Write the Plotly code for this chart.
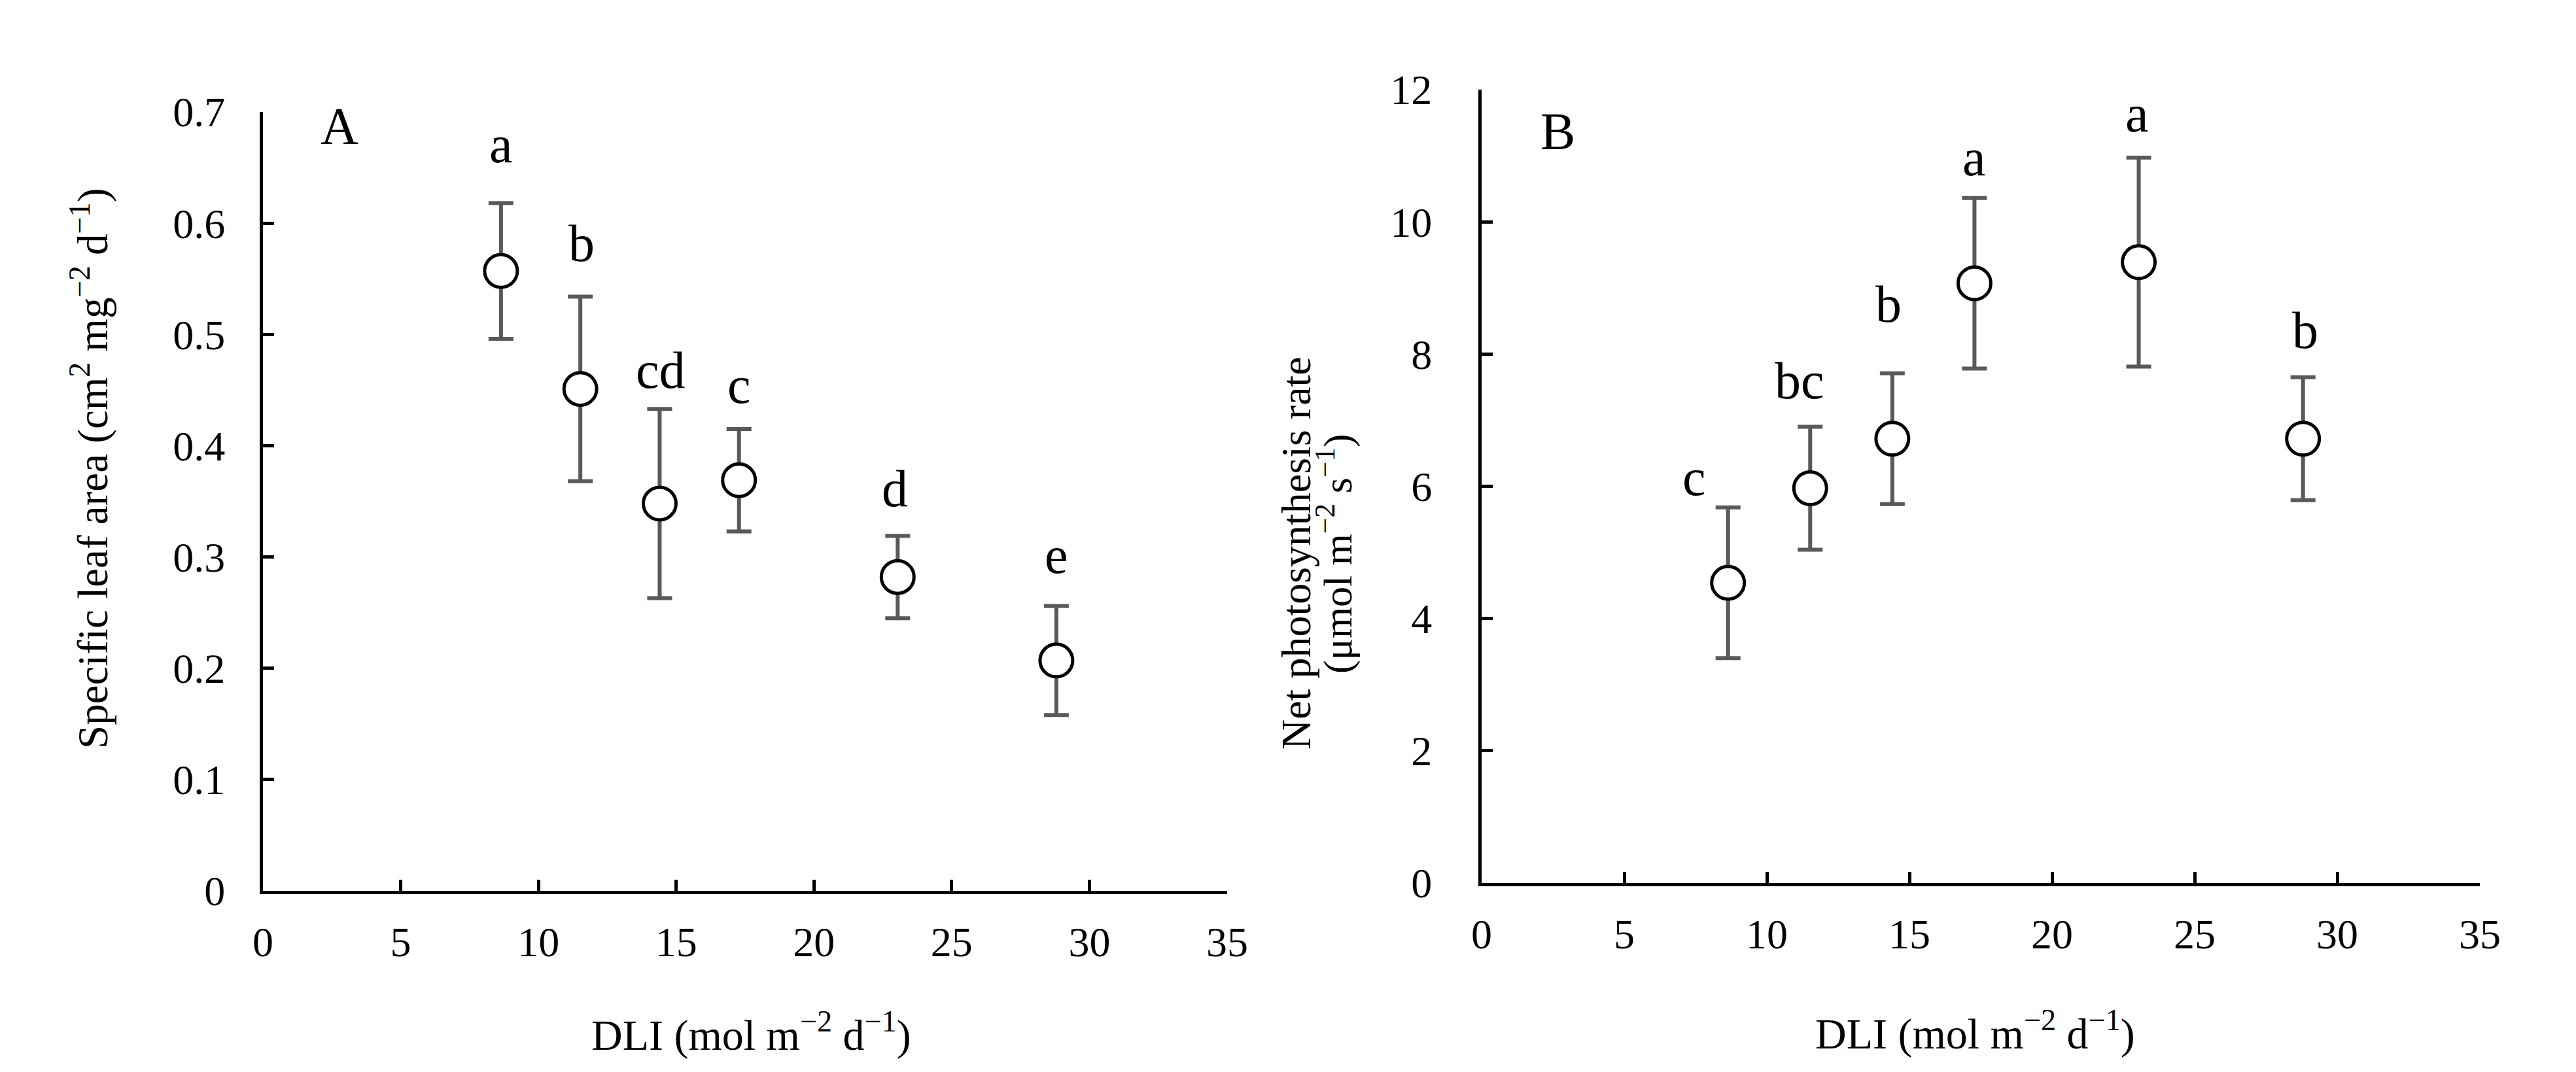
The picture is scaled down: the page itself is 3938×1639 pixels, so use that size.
import plotly.graph_objects as go

# ---------------- data ----------------
dli = [8.64, 11.52, 14.4, 17.28, 23.04, 28.8]

sla_mean = [0.557, 0.451, 0.348, 0.369, 0.282, 0.207]
sla_err = [0.061, 0.083, 0.085, 0.046, 0.037, 0.049]
sla_letters = ["a", "b", "cd", "c", "d", "e"]

pn_mean = [4.54, 5.97, 6.72, 9.07, 9.39, 6.72]
pn_err = [1.14, 0.93, 0.99, 1.29, 1.58, 0.93]
pn_letters = ["c", "bc", "b", "a", "a", "b"]

x_ticks = [0, 5, 10, 15, 20, 25, 30, 35]

# letter placement tweaks (pixels above the error-bar cap, horizontal nudge)
sla_lab_dy = [62, 53, 31, 39, 44, 49]
sla_lab_dx = [0, 2, 2, 0, -4, 0]
pn_lab_dy = [18, 43, 78, 34, 39, 44]
pn_lab_dx = [-52, -16, -6, 0, -3, 3]

# ---------------- layout helpers ----------------
W, H = 3922, 1623
OFF = 8  # default body margin of the page


def px(xp):
    return (xp - OFF) / W


def py(yp):
    return 1 - (yp - OFF) / H


FONT = "Liberation Serif, Times New Roman, serif"
TICK_SIZE = 64
TITLE_SIZE = 66
LETTER_SIZE = 80
ERR_COLOR = "#595959"

fig = go.Figure()

fig.add_trace(go.Scatter(
    x=dli, y=sla_mean, mode="markers", xaxis="x", yaxis="y",
    marker=dict(symbol="circle", size=50, color="white",
                line=dict(color="black", width=5)),
    error_y=dict(type="data", array=sla_err, visible=True,
                 color=ERR_COLOR, thickness=6, width=19),
    showlegend=False, hoverinfo="x+y",
))
fig.add_trace(go.Scatter(
    x=dli, y=pn_mean, mode="markers", xaxis="x2", yaxis="y2",
    marker=dict(symbol="circle", size=50, color="white",
                line=dict(color="black", width=5)),
    error_y=dict(type="data", array=pn_err, visible=True,
                 color=ERR_COLOR, thickness=6, width=19),
    showlegend=False, hoverinfo="x+y",
))

axis_common = dict(
    showgrid=False, zeroline=False, showline=True, linecolor="black",
    linewidth=5, ticks="inside", ticklen=17, tickwidth=5, tickcolor="black",
    tickfont=dict(family=FONT, size=TICK_SIZE, color="black"),
    fixedrange=True, automargin=False,
)

fig.update_layout(
    template="none",
    width=W, height=H, autosize=False,
    margin=dict(l=0, r=0, t=0, b=0, pad=0),
    paper_bgcolor="white", plot_bgcolor="white",
    font=dict(family=FONT, color="black"),
    xaxis=dict(axis_common, domain=[px(402), px(1876)], range=[0, 35],
               tickvals=x_ticks, anchor="y", ticklabelstandoff=18),
    yaxis=dict(axis_common, domain=[py(1362), py(171)], range=[0, 0.7],
               dtick=0.1, tick0=0, anchor="x", ticklabelstandoff=40),
    xaxis2=dict(axis_common, domain=[px(2265), px(3791)], range=[0, 35],
                tickvals=x_ticks, anchor="y2", ticklabelstandoff=18),
    yaxis2=dict(axis_common, domain=[py(1350), py(137)], range=[0, 12],
                dtick=2, tick0=0, anchor="x2", ticklabelstandoff=58),
)

ann = []
# significance letters
for xv, m, e, t, dy, dx in zip(dli, sla_mean, sla_err, sla_letters, sla_lab_dy, sla_lab_dx):
    ann.append(dict(x=xv, y=m + e, xref="x", yref="y", text=t, showarrow=False,
                    yanchor="bottom", xanchor="center", yshift=dy - 18, xshift=dx,
                    font=dict(family=FONT, size=LETTER_SIZE, color="black")))
for xv, m, e, t, dy, dx in zip(dli, pn_mean, pn_err, pn_letters, pn_lab_dy, pn_lab_dx):
    ann.append(dict(x=xv, y=m + e, xref="x2", yref="y2", text=t, showarrow=False,
                    yanchor="bottom", xanchor="center", yshift=dy - 18, xshift=dx,
                    font=dict(family=FONT, size=LETTER_SIZE, color="black")))

# panel labels
ann.append(dict(x=px(519), y=py(193), xref="paper", yref="paper", text="A",
                showarrow=False, xanchor="center", yanchor="middle",
                font=dict(family=FONT, size=LETTER_SIZE, color="black")))
ann.append(dict(x=px(2381), y=py(201), xref="paper", yref="paper", text="B",
                showarrow=False, xanchor="center", yanchor="middle",
                font=dict(family=FONT, size=LETTER_SIZE, color="black")))

# axis titles
xt = "DLI (mol m<sup>−2</sup> d<sup>−1</sup>)"
ann.append(dict(x=px(1148), y=py(1578), xref="paper", yref="paper", text=xt,
                showarrow=False, xanchor="center", yanchor="middle",
                font=dict(family=FONT, size=TITLE_SIZE, color="black")))
ann.append(dict(x=px(3019), y=py(1576), xref="paper", yref="paper", text=xt,
                showarrow=False, xanchor="center", yanchor="middle",
                font=dict(family=FONT, size=TITLE_SIZE, color="black")))
ann.append(dict(x=px(137), y=py(716), xref="paper", yref="paper",
                text="Specific leaf area (cm<sup>2</sup> mg<sup>−2</sup> d<sup>−1</sup>)",
                showarrow=False, textangle=-90, xanchor="center", yanchor="middle",
                font=dict(family=FONT, size=65, color="black")))
ann.append(dict(x=px(1981), y=py(846), xref="paper", yref="paper",
                text="Net photosynthesis rate",
                showarrow=False, textangle=-90, xanchor="center", yanchor="middle",
                font=dict(family=FONT, size=64, color="black")))
ann.append(dict(x=px(2040), y=py(846), xref="paper", yref="paper",
                text="(μmol m<sup>−2</sup> s<sup>−1</sup>)",
                showarrow=False, textangle=-90, xanchor="center", yanchor="middle",
                font=dict(family=FONT, size=62, color="black")))

fig.update_layout(annotations=ann)

fig.write_html("out.html")
